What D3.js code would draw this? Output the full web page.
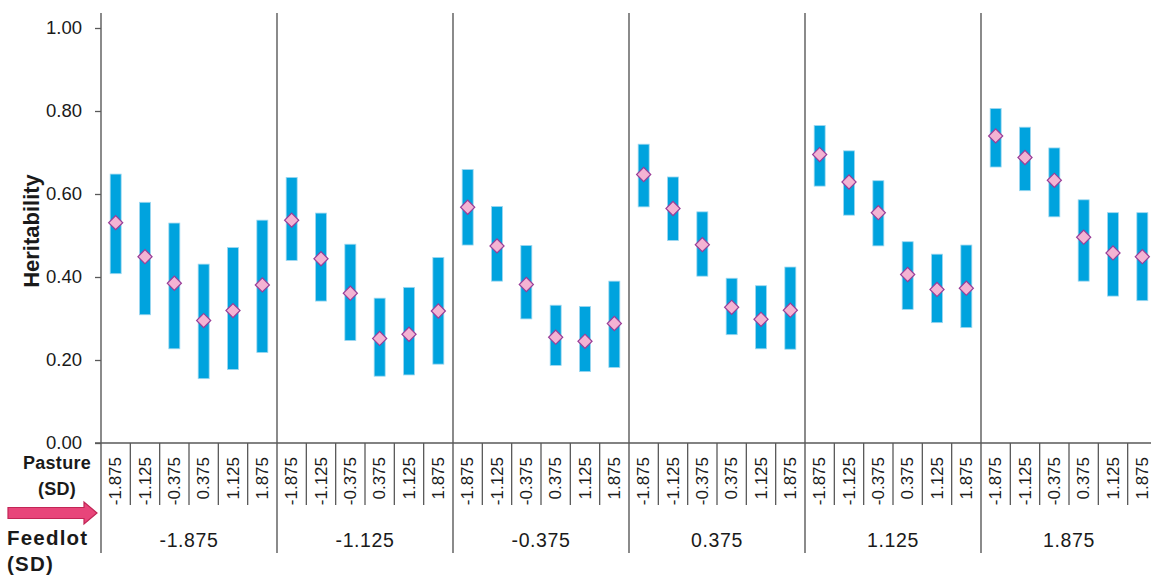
<!DOCTYPE html>
<html>
<head>
<meta charset="utf-8">
<script src="https://cdn.jsdelivr.net/npm/d3@7"></script>
<style>
  html, body { margin: 0; padding: 0; background: #ffffff; }
  svg { display: block; font-family: "Liberation Sans", Arial, sans-serif; }
</style>
</head>
<body>
<svg id="chart" width="1151" height="576"></svg>
<script>
// Environment levels (standard deviations)
const feedlotLevels = ["-1.875", "-1.125", "-0.375", "0.375", "1.125", "1.875"];
const pastureLevels = ["-1.875", "-1.125", "-0.375", "0.375", "1.125", "1.875"];

// Heritability estimates, one row per feedlot level, one entry per pasture level
const estimate = [
  [0.531, 0.449, 0.385, 0.295, 0.319, 0.381],
  [0.537, 0.444, 0.361, 0.252, 0.262, 0.318],
  [0.568, 0.475, 0.382, 0.255, 0.245, 0.288],
  [0.647, 0.565, 0.478, 0.327, 0.298, 0.320],
  [0.695, 0.629, 0.555, 0.406, 0.370, 0.373],
  [0.740, 0.688, 0.633, 0.496, 0.458, 0.449]
];
// Lower and upper bounds of the credible intervals
const lower = [
  [0.408, 0.309, 0.227, 0.155, 0.177, 0.218],
  [0.440, 0.342, 0.247, 0.161, 0.164, 0.190],
  [0.477, 0.390, 0.299, 0.187, 0.172, 0.182],
  [0.569, 0.488, 0.402, 0.261, 0.227, 0.226],
  [0.619, 0.549, 0.475, 0.322, 0.290, 0.278],
  [0.665, 0.608, 0.545, 0.390, 0.354, 0.343]
];
const upper = [
  [0.648, 0.580, 0.530, 0.431, 0.471, 0.537],
  [0.640, 0.554, 0.479, 0.349, 0.375, 0.447],
  [0.659, 0.570, 0.476, 0.332, 0.329, 0.390],
  [0.720, 0.641, 0.557, 0.397, 0.379, 0.424],
  [0.765, 0.704, 0.632, 0.485, 0.455, 0.477],
  [0.806, 0.761, 0.711, 0.586, 0.555, 0.555]
];
const yTicks = [0, 0.2, 0.4, 0.6, 0.8, 1.0];

const svg = d3.select("#chart");
const plotLeft = 101, plotRight = 1157, plotTop = 28, plotBottom = 443;
const lineTop = 13, lineBottom = 553, catLineBottom = 505;
const textColor = "#1a1a1a", lineColor = "#595959";

const x0 = d3.scaleBand().domain(feedlotLevels).range([plotLeft, plotRight]).padding(0);
const x1 = d3.scaleBand().domain(pastureLevels).range([0, x0.bandwidth()]).padding(0);
const y = d3.scaleLinear().domain([0, 1]).range([plotBottom, plotTop]);

// Flatten rows into records
const records = [];
feedlotLevels.forEach((f, i) => {
  pastureLevels.forEach((p, j) => {
    records.push({ feedlot: f, pasture: p, est: estimate[i][j], lo: lower[i][j], hi: upper[i][j] });
  });
});

// Y axis
const yAxis = d3.axisLeft(y).tickValues(yTicks).tickFormat(d3.format(".2f")).tickSize(6).tickPadding(13);
const gy = svg.append("g").attr("transform", `translate(${plotLeft},0)`).call(yAxis);
gy.select(".domain").remove();
gy.selectAll(".tick line").attr("stroke", lineColor).attr("stroke-width", 1.3);
gy.selectAll(".tick text").attr("fill", textColor).attr("font-size", 18.5)
  .attr("font-family", "'Liberation Sans', Arial, sans-serif");

// Horizontal baseline
svg.append("line")
  .attr("x1", plotLeft - 6).attr("x2", 1151)
  .attr("y1", y(0)).attr("y2", y(0))
  .attr("stroke", lineColor).attr("stroke-width", 1.5);

// Group separators (also the y axis line at the first boundary)
const boundaries = feedlotLevels.map(f => x0(f));
svg.append("g").selectAll("line").data(boundaries).join("line")
  .attr("x1", d => d).attr("x2", d => d)
  .attr("y1", lineTop).attr("y2", lineBottom)
  .attr("stroke", lineColor).attr("stroke-width", 1.4);

// Category dividers under the baseline
const catDividers = [];
feedlotLevels.forEach(f => {
  pastureLevels.forEach((p, j) => { if (j > 0) catDividers.push(x0(f) + x1(p)); });
});
catDividers.push(plotRight);
svg.append("g").selectAll("line").data(catDividers).join("line")
  .attr("x1", d => d).attr("x2", d => d)
  .attr("y1", y(0)).attr("y2", catLineBottom)
  .attr("stroke", lineColor).attr("stroke-width", 1.3);

// Interval bars
const barW = 11;
const cx = d => x0(d.feedlot) + x1(d.pasture) + x1.bandwidth() / 2;
svg.append("g").selectAll("rect").data(records).join("rect")
  .attr("x", d => cx(d) - barW / 2)
  .attr("y", d => y(d.hi))
  .attr("width", barW)
  .attr("height", d => y(d.lo) - y(d.hi))
  .attr("fill", "#00a3de")
  .attr("stroke", "#9ed8f0")
  .attr("stroke-width", 0.8);

// Point estimates as diamonds
const diamond = d3.symbol().type(d3.symbolSquare).size(100);
svg.append("g").selectAll("path").data(records).join("path")
  .attr("d", diamond)
  .attr("transform", d => `translate(${cx(d)},${y(d.est)}) rotate(45)`)
  .attr("fill", "#f4b3d3")
  .attr("stroke", "#9a3d97")
  .attr("stroke-width", 1.2);

// Pasture level labels (rotated)
svg.append("g").selectAll("text").data(records).join("text")
  .attr("transform", d => `translate(${cx(d) + 5.5},${457}) rotate(-90)`)
  .attr("text-anchor", "end")
  .attr("font-size", 17)
  .attr("fill", textColor)
  .text(d => d.pasture);

// Feedlot level labels
svg.append("g").selectAll("text").data(feedlotLevels).join("text")
  .attr("x", d => x0(d) + x0.bandwidth() / 2)
  .attr("y", 540)
  .attr("dy", "0.35em")
  .attr("text-anchor", "middle")
  .attr("font-size", 19.5)
  .attr("letter-spacing", 0.6)
  .attr("fill", textColor)
  .text(d => d);

// Y axis title
svg.append("text")
  .attr("transform", "translate(39,231) rotate(-90)")
  .attr("text-anchor", "middle")
  .attr("font-size", 22)
  .attr("font-weight", "bold")
  .attr("fill", textColor)
  .text("Heritability");

// Row titles
const rowTitle = (lines, x, y0, anchor, size, spacing) => {
  lines.forEach((t, i) => {
    svg.append("text")
      .attr("x", x).attr("y", y0 + i * 26)
      .attr("dy", "0.35em")
      .attr("text-anchor", anchor)
      .attr("font-size", size)
      .attr("font-weight", "bold")
      .attr("letter-spacing", spacing)
      .attr("fill", textColor)
      .text(t);
  });
};
rowTitle(["Pasture", "(SD)"], 57, 463, "middle", 18, 0.3);
rowTitle(["Feedlot", "(SD)"], 7, 538, "start", 20.5, 1.2);

// Direction arrow
const arrowPts = [[8, 507.5], [84, 507.5], [84, 502], [97, 513], [84, 524], [84, 518.5], [8, 518.5]];
svg.append("path")
  .attr("d", d3.line()(arrowPts) + "Z")
  .attr("fill", "#e8457a")
  .attr("stroke", "#c22556")
  .attr("stroke-width", 1.2);
</script>
</body>
</html>
